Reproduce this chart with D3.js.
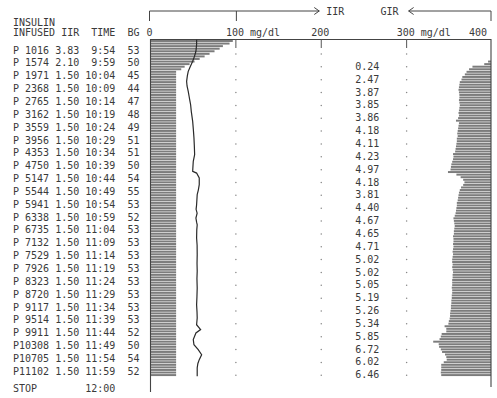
<!DOCTYPE html>
<html><head><meta charset="utf-8">
<script src="https://cdn.jsdelivr.net/npm/d3@7"></script>
<style>
html,body{margin:0;padding:0;background:#fff;}
svg{display:block;}
text{font-family:"DejaVu Sans Mono",monospace;font-size:10px;fill:#3a3a3a;white-space:pre;}
</style></head><body>
<svg id="c" width="497" height="398"></svg>
<script>
// ---- table columns ----
const pumpCount = ["1016","1574","1971","2368","2765","3162","3559","3956","4353","4750","5147","5544","5941","6338","6735","7132","7529","7926","8323","8720","9117","9514","9911","10308","10705","11102"];
const iirCol = ["3.83","2.10","1.50","1.50","1.50","1.50","1.50","1.50","1.50","1.50","1.50","1.50","1.50","1.50","1.50","1.50","1.50","1.50","1.50","1.50","1.50","1.50","1.50","1.50","1.50","1.50"];
const timeCol = ["9:54","9:59","10:04","10:09","10:14","10:19","10:24","10:29","10:34","10:39","10:44","10:49","10:54","10:59","11:04","11:09","11:14","11:19","11:24","11:29","11:34","11:39","11:44","11:49","11:54","11:59"];
const bgCol = ["53","50","45","44","47","48","49","51","51","50","54","55","53","52","53","53","53","53","53","53","53","53","52","50","54","52"];
// GIR 5-min averages, printed against rows 2..26
const girCol = ["0.24","2.47","3.87","3.85","3.86","4.18","4.11","4.23","4.97","4.18","3.81","4.40","4.67","4.65","4.71","5.02","5.02","5.05","5.19","5.26","5.34","5.85","6.72","6.02","6.46"];
const stopTime = "12:00";
const startTime = "9:50";
// axis
const tickValues = [0,100,200,300,400];
const tickLabels = ["0","100 mg/dl","200","300 mg/dl","400"];
const dotTicks = [100,200,300];
// per-minute insulin infusion rate (from 9:50, minute 0..130)
const iirMinute = [4.82,4.63,4.24,4.05,3.75,3.46,3.17,2.88,2.58,2.29,2.00,1.80,
1.5,1.5,1.5,1.5,1.5,1.5,1.5,1.5,1.5,1.5,1.5,1.5,1.5,1.5,1.5,1.5,1.5,1.5,1.5,1.5,
1.5,1.5,1.5,1.5,1.5,1.5,1.5,1.5,1.5,1.5,1.5,1.5,1.5,1.5,1.5,1.5,1.5,1.5,1.5,1.5,
1.5,1.5,1.5,1.5,1.5,1.5,1.5,1.5,1.5,1.5,1.5,1.5,1.5,1.5,1.5,1.5,1.5,1.5,1.5,1.5,
1.5,1.5,1.5,1.5,1.5,1.5,1.5,1.5,1.5,1.5,1.5,1.5,1.5,1.5,1.5,1.5,1.5,1.5,1.5,1.5,
1.5,1.5,1.5,1.5,1.5,1.5,1.5,1.5,1.5,1.5,1.5,1.5,1.5,1.5,1.5,1.5,1.5,1.5,1.5,1.5,
1.5,1.5,1.5,1.5,1.5,1.5,1.5,1.5,1.5,1.5,1.5,1.5,1.5,1.5,1.5,1.5,1.5,1.5,1.5];
// per-minute glucose infusion rate, minutes 8..130
const girStartMinute = 8;
const girMinute = [0.35,0.8,2.2,2.6,2.9,3.1,3.4,3.5,3.7,3.75,3.8,3.85,3.8,3.75,3.75,3.8,3.75,3.7,3.75,3.8,
3.85,3.8,3.9,4.15,3.8,3.85,3.9,3.95,4.0,3.95,4.05,4.05,4.1,4.15,4.2,4.25,4.5,4.45,4.5,4.6,
4.7,4.75,4.8,5.1,4.1,3.6,3.3,3.15,3.3,3.55,3.7,3.8,3.85,3.9,3.95,4.05,4.05,4.1,4.15,4.2,
4.3,4.45,4.4,4.35,4.3,4.35,4.4,4.4,4.5,4.45,4.45,4.5,4.45,4.5,4.55,4.5,4.55,4.6,4.6,4.55,
4.6,4.55,4.5,4.55,4.55,4.6,4.6,4.6,4.65,4.6,4.6,4.65,4.65,4.7,4.7,4.75,4.75,4.8,4.85,4.85,
4.9,5.0,5.05,5.5,5.3,5.3,5.85,5.95,6.1,6.85,6.2,6.15,5.95,5.8,5.45,5.3,5.25,5.6,5.9,5.9,
5.9,5.95,5.9];
// blood glucose trace: minute, mg/dl
const bgTraceMin = [0,2,4.5,6.5,8.4,10.5,12.3,14,16.2,18,20.1,22,23.5,25.3,28,31.8,35,38.2,41,44.7,47.3,50,51.2,51.9,53.8,56.4,58.5,60.3,64.2,66,67.5,69.4,71,72,74,77.2,80,83.7,87,90.1,93,96.6,100,103.1,106,108.3,110.9,112.8,114.1,116.7,118.7,120.6,122.6,124.5,126,127.7,131];
const bgTraceVal = [54.0,54.0,53.2,51.5,49.4,46.5,44.2,43.2,42.3,42.8,44.2,45.2,46.0,47.0,47.8,49.4,50.2,50.9,51.3,51.7,50.1,49.6,49.4,54.0,57.1,57.1,56.0,54.7,54.0,53.4,54.6,53.2,54.0,54.7,54.2,54.0,54.6,54.7,54.5,54.7,54.4,54.7,54.4,54.0,54.5,54.7,54.0,58.7,53.2,50.1,50.9,55.9,59.9,57.1,55.5,54.7,54.7];

// ---- drawing ----
const svg = d3.select("#c");
const ink = "#3a3a3a";
const toMin = s => { const [h,m] = s.split(":").map(Number); return h*60+m; };
const t0 = toMin(startTime);
const tOf = s => toMin(s) - t0;

const x = d3.scaleLinear().domain([0,400]).range([150.5,492]);
const y = d3.scaleLinear().domain([0,130]).range([39.7,373.8]);
const iirX = d3.scaleLinear().domain([0,10]).range([x(0), x(200)]);
const girX = d3.scaleLinear().domain([0,10]).range([x(400)-1, x(300)]);
const rowH = y(1)-y(0);

// IIR bars
svg.append("g").selectAll("rect").data(iirMinute).join("rect")
  .attr("x", x(0)+0.5).attr("y", (d,i)=>y(i)+0.3)
  .attr("width", d=>iirX(d)-x(0)-0.5).attr("height", rowH-0.6)
  .attr("fill", "#7c7c7c");

// GIR bars
svg.append("g").selectAll("rect").data(girMinute).join("rect")
  .attr("x", d=>girX(d)).attr("y", (d,i)=>y(i+girStartMinute)+0.3)
  .attr("width", d=>girX(0)-girX(d)).attr("height", rowH-0.6)
  .attr("fill", "#7c7c7c");

// frame
const frameTop = 39.5;
svg.append("path").attr("d", `M${x(0)},392 V${frameTop} H${x(400)-1} V387`)
  .attr("fill","none").attr("stroke","#444").attr("stroke-width",1.1);

// short ticks and dotted grid
dotTicks.forEach(v=>{
  svg.append("line").attr("x1",x(v)).attr("x2",x(v)).attr("y1",frameTop).attr("y2",48)
    .attr("stroke","#555").attr("stroke-width",1);
  svg.append("g").selectAll("circle").data(timeCol).join("circle")
    .attr("cx", x(v)).attr("cy", d=>y(tOf(d))+4).attr("r",0.75).attr("fill","#888");
});

// BG trace
const line = d3.line().x(d=>x(d[1])).y(d=>y(d[0]));
svg.append("path").datum(bgTraceMin.map((t,i)=>[t,bgTraceVal[i]]))
  .attr("d", line).attr("fill","none").attr("stroke","#2a2a2a").attr("stroke-width",1.2);

// top bracket with arrows
const by = 11;
svg.append("path").attr("d",
  `M${x(0)-1},21 V${by} H${x(200)-2} M${x(200)-7},${by-3.5} L${x(200)-2},${by} L${x(200)-7},${by+3.5}` +
  ` M${x(100)+0.5},${by} V21` +
  ` M${x(300)+7},${by-3.5} L${x(300)+2},${by} L${x(300)+7},${by+3.5} M${x(300)+2},${by} H${x(400)-1} V21`)
  .attr("fill","none").attr("stroke","#444").attr("stroke-width",1);
svg.append("text").attr("x", x(200)+5).attr("y", by+3.6).text("IIR");
svg.append("text").attr("x", x(300)-8).attr("y", by+3.6).attr("text-anchor","end").text("GIR");

// tick labels
svg.append("g").selectAll("text").data(tickValues).join("text")
  .attr("x", (v,i)=> i===tickValues.length-1 ? x(v)-5 : x(v) - tickLabels[i].split(" ")[0].length*3 - 1)
  .attr("text-anchor", (v,i)=> i===tickValues.length-1 ? "end" : "start")
  .attr("y", 36).text((v,i)=>tickLabels[i]);

// header
const colX = 13;
svg.append("text").attr("x",colX).attr("y",26).text("INSULIN");
svg.append("text").attr("x",colX).attr("y",36).text("INFUSED IIR  TIME  BG");

// table rows
svg.append("g").selectAll("text").data(timeCol).join("text")
  .attr("x", colX).attr("y", d=>y(tOf(d))+3.6)
  .text((d,i)=>"P"+pumpCount[i].padStart(5," ")+" "+iirCol[i]+" "+d.padStart(5," ")+"  "+bgCol[i]);

// GIR printed values (rows 2..)
svg.append("g").selectAll("text").data(girCol).join("text")
  .attr("x", x(200)+34).attr("y", (d,i)=>y(tOf(timeCol[i+1]))+3.5+3.6)
  .text(d=>d);

// STOP line
svg.append("text").attr("x",colX).attr("y", y(tOf(stopTime))+15+3.6)
  .text("STOP".padEnd(12," ")+stopTime);
</script>
</body></html>
